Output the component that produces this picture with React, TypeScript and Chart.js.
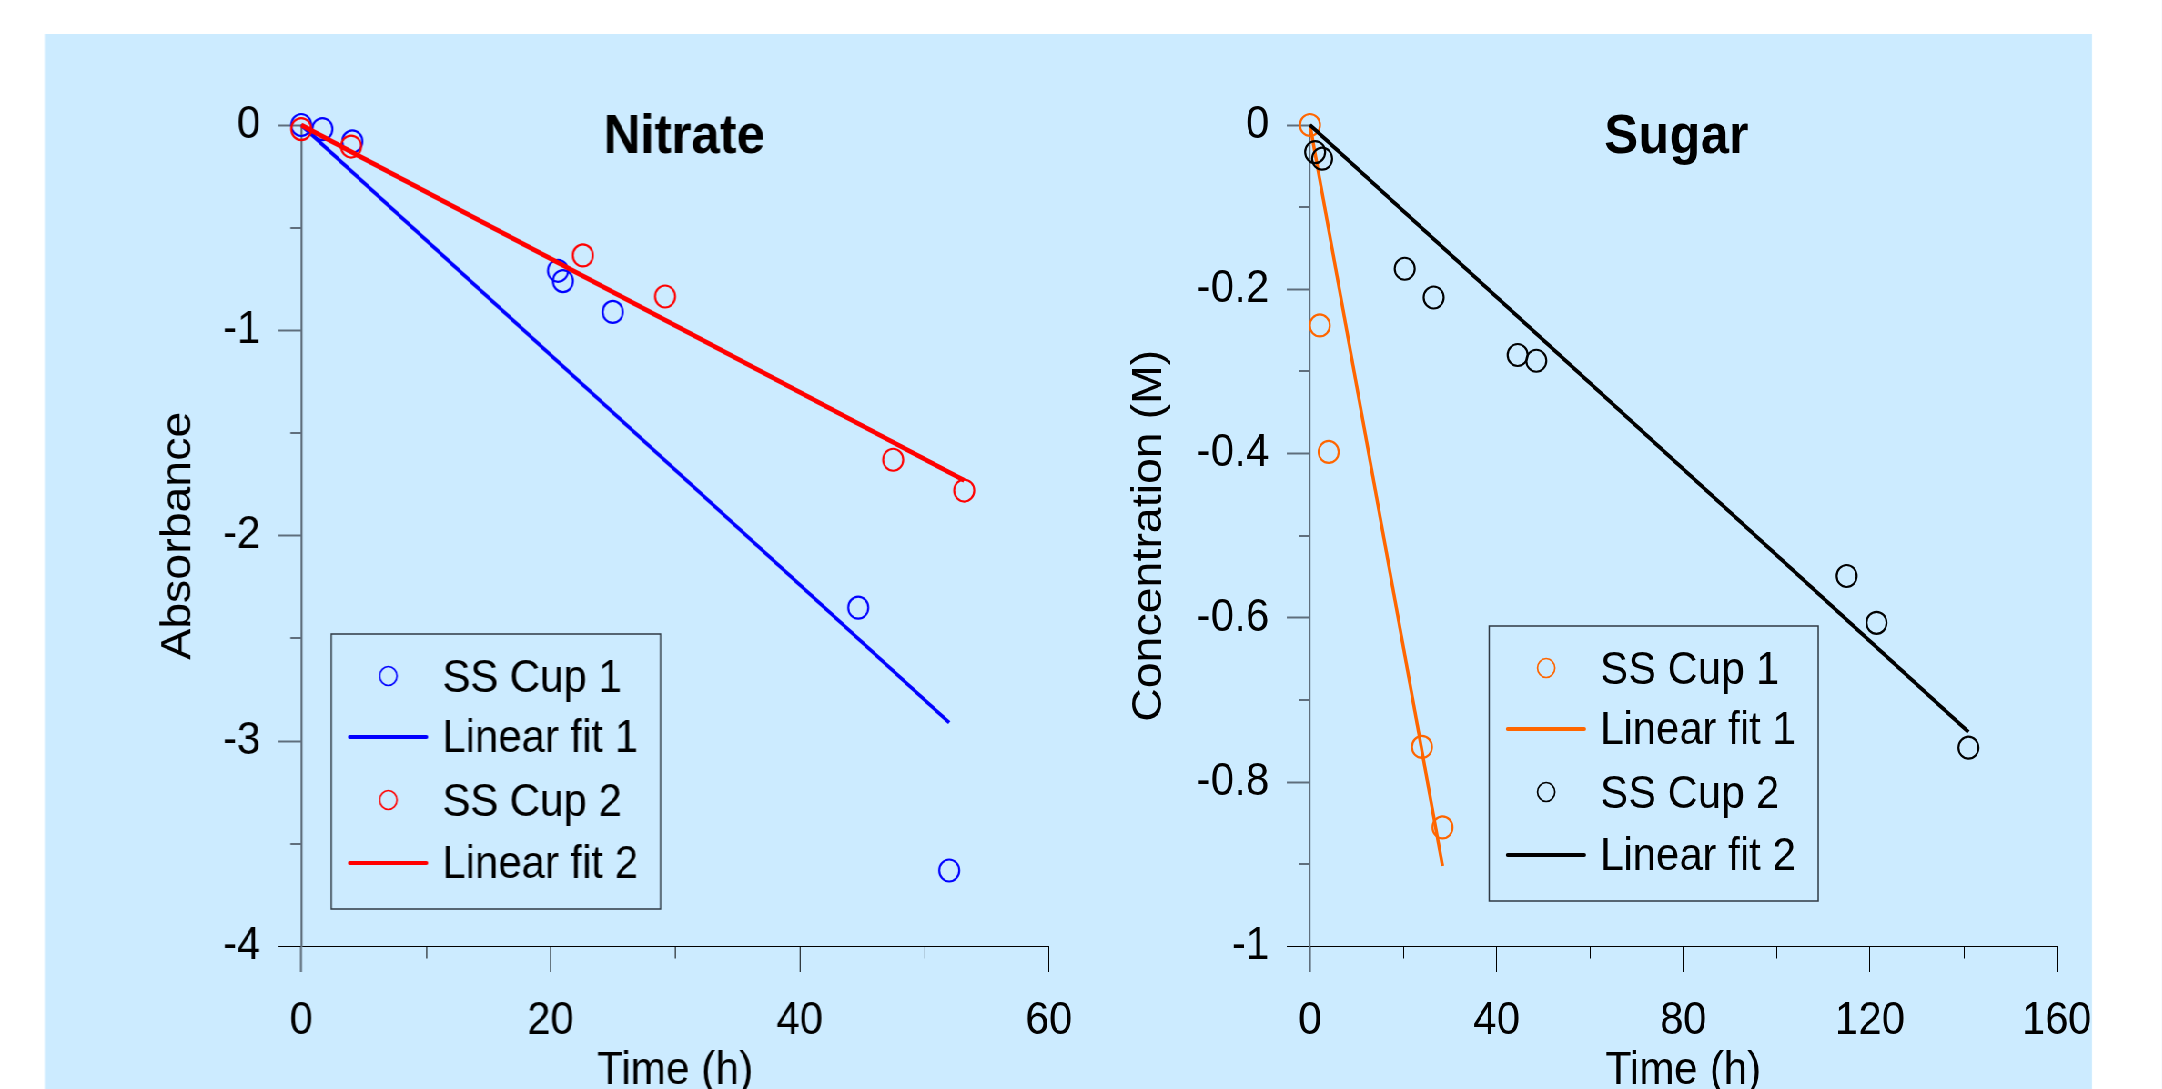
import React, { useEffect, useRef } from 'react';
import { Chart, registerables } from 'chart.js';

Chart.register(...registerables);

// ---------------- Data ----------------
const SERIES_LABELS = ['SS Cup 1', 'Linear fit 1', 'SS Cup 2', 'Linear fit 2'];

// Nitrate panel: time (h) vs absorbance
const NITRATE_CUP1_TIME = [0, 1.7, 4.1, 20.6, 21.0, 25.0, 44.7, 52.0];
const NITRATE_CUP1_ABS = [0, -0.02, -0.08, -0.71, -0.76, -0.91, -2.35, -3.63];
const NITRATE_CUP2_TIME = [0, 4.0, 22.6, 29.2, 47.5, 53.2];
const NITRATE_CUP2_ABS = [-0.02, -0.105, -0.635, -0.835, -1.63, -1.78];
const NITRATE_FIT1_TIME = [0, 52.0];
const NITRATE_FIT1_ABS = [0, -2.91];
const NITRATE_FIT2_TIME = [0, 53.2];
const NITRATE_FIT2_ABS = [0, -1.73];

// Sugar panel: time (h) vs concentration (M)
const SUGAR_CUP1_TIME = [0, 2.1, 4.0, 24.0, 28.4];
const SUGAR_CUP1_CONC = [0, -0.244, -0.398, -0.757, -0.855];
const SUGAR_CUP2_TIME = [1.1, 2.6, 20.3, 26.5, 44.5, 48.5, 115.0, 121.4, 141.1];
const SUGAR_CUP2_CONC = [-0.033, -0.041, -0.175, -0.21, -0.28, -0.287, -0.549, -0.606, -0.758];
const SUGAR_FIT1_TIME = [0, 28.4];
const SUGAR_FIT1_CONC = [0, -0.902];
const SUGAR_FIT2_TIME = [0, 141.1];
const SUGAR_FIT2_CONC = [0, -0.739];

// Ticks
const NITRATE_X_TICKS = [0, 20, 40, 60];
const NITRATE_X_MINOR = [10, 30, 50];
const NITRATE_Y_TICKS = [-4, -3, -2, -1, 0];
const NITRATE_Y_MINOR = [-3.5, -2.5, -1.5, -0.5];
const SUGAR_X_TICKS = [0, 40, 80, 120, 160];
const SUGAR_X_MINOR = [20, 60, 100, 140];
const SUGAR_Y_TICKS = [-1, -0.8, -0.6, -0.4, -0.2, 0];
const SUGAR_Y_MINOR = [-0.9, -0.7, -0.5, -0.3, -0.1];

// ---------------- Layout / style ----------------
const SQUEEZE = 0.91; // horizontal compression of the whole figure
const VIEW_W = 2162;
const VIEW_H = 1089;
const ix = (screenX: number) => screenX / SQUEEZE;
const FONT = "'Liberation Sans', Arial, Helvetica, sans-serif";
const AXIS_GRAY = '#5f6e7c';
const BG = '#CCEBFF';
const PLOT_TOP = 125;
const PLOT_BOTTOM = 946.5;
const CANVAS_H = 1100;
const TICK_LEN = 25.5;
const MINOR_LEN = 12;
const LEGEND_W = 329;
const LEGEND_H = 275;
const LEGEND_ROWS = [42, 102, 166, 228];
const AXIS_TITLE_SIZE = 46.5;

type Panel = {
  canvasLeft: number;
  canvasRight: number;
  axisLeft: number;
  axisRight: number;
  yTitleMid: number;
  title: string;
  titleCenter: number;
  legendLeft: number;
  legendTop: number;
  xTitle: string;
  yTitle: string;
  xMin: number; xMax: number; yMin: number; yMax: number;
  xTicks: number[]; xMinor: number[]; yTicks: number[]; yMinor: number[];
  colors: string[];
  widths: number[];
  series: { xs: number[]; ys: number[]; line: boolean }[];
};

const PANELS: Panel[] = [
  {
    canvasLeft: 0, canvasRight: 1100, axisLeft: 301, axisRight: 1048, yTitleMid: 178.2,
    title: 'Nitrate', titleCenter: 683.7, legendLeft: 331, legendTop: 634,
    xTitle: 'Time (h)', yTitle: 'Absorbance',
    xMin: 0, xMax: 60, yMin: -4, yMax: 0,
    xTicks: NITRATE_X_TICKS, xMinor: NITRATE_X_MINOR, yTicks: NITRATE_Y_TICKS, yMinor: NITRATE_Y_MINOR,
    colors: ['#0000FF', '#0000FF', '#FF0000', '#FF0000'],
    widths: [2.2, 3.8, 2.2, 4.8],
    series: [
      { xs: NITRATE_CUP1_TIME, ys: NITRATE_CUP1_ABS, line: false },
      { xs: NITRATE_FIT1_TIME, ys: NITRATE_FIT1_ABS, line: true },
      { xs: NITRATE_CUP2_TIME, ys: NITRATE_CUP2_ABS, line: false },
      { xs: NITRATE_FIT2_TIME, ys: NITRATE_FIT2_ABS, line: true },
    ],
  },
  {
    canvasLeft: 1100, canvasRight: 2162, axisLeft: 1309.8, axisRight: 2056.5, yTitleMid: 1149.2,
    title: 'Sugar', titleCenter: 1676.3, legendLeft: 1489, legendTop: 626,
    xTitle: 'Time (h)', yTitle: 'Concentration (M)',
    xMin: 0, xMax: 160, yMin: -1, yMax: 0,
    xTicks: SUGAR_X_TICKS, xMinor: SUGAR_X_MINOR, yTicks: SUGAR_Y_TICKS, yMinor: SUGAR_Y_MINOR,
    colors: ['#FF6600', '#FF6600', '#000000', '#000000'],
    widths: [2.2, 3.6, 2.2, 4],
    series: [
      { xs: SUGAR_CUP1_TIME, ys: SUGAR_CUP1_CONC, line: false },
      { xs: SUGAR_FIT1_TIME, ys: SUGAR_FIT1_CONC, line: true },
      { xs: SUGAR_CUP2_TIME, ys: SUGAR_CUP2_CONC, line: false },
      { xs: SUGAR_FIT2_TIME, ys: SUGAR_FIT2_CONC, line: true },
    ],
  },
];

function makeDecorPlugin(p: Panel, canvasLeftInt: number) {
  return {
    id: 'decor',
    afterDraw(chart: any) {
      const { ctx, chartArea } = chart;
      const xs = chart.scales.x;
      const ys = chart.scales.y;
      ctx.save();
      // minor ticks
      ctx.strokeStyle = '#000';
      ctx.lineWidth = 1;
      ctx.beginPath();
      p.xMinor.forEach((v) => {
        const px = Math.round(xs.getPixelForValue(v)) + 0.5;
        ctx.moveTo(px, chartArea.bottom);
        ctx.lineTo(px, chartArea.bottom + MINOR_LEN);
      });
      ctx.stroke();
      ctx.strokeStyle = AXIS_GRAY;
      ctx.lineWidth = 2;
      ctx.beginPath();
      p.yMinor.forEach((v) => {
        const py = Math.round(ys.getPixelForValue(v));
        ctx.moveTo(chartArea.left - MINOR_LEN, py);
        ctx.lineTo(chartArea.left, py);
      });
      ctx.stroke();

      // panel title
      ctx.fillStyle = '#000';
      ctx.font = `bold 56px ${FONT}`;
      ctx.textAlign = 'center';
      ctx.textBaseline = 'alphabetic';
      ctx.fillText(p.title, ix(p.titleCenter) - canvasLeftInt, 152.7);

      // legend box
      const bx = ix(p.legendLeft) - canvasLeftInt;
      const by = p.legendTop;
      const bw = ix(LEGEND_W);
      ctx.strokeStyle = '#2f3a44';
      ctx.lineWidth = 1.5;
      ctx.strokeRect(bx, by, bw, LEGEND_H);
      ctx.font = `46px ${FONT}`;
      ctx.textAlign = 'left';
      chart.data.datasets.forEach((ds: any, i: number) => {
        const cy = by + LEGEND_ROWS[i];
        if (ds.showLine) {
          ctx.strokeStyle = ds.borderColor;
          ctx.lineWidth = 4;
          ctx.lineCap = 'round';
          ctx.beginPath();
          ctx.moveTo(bx + ix(18.5), cy + 1);
          ctx.lineTo(bx + ix(95), cy + 1);
          ctx.stroke();
        } else {
          ctx.strokeStyle = ds.borderColor;
          ctx.lineWidth = 1.7;
          ctx.beginPath();
          ctx.arc(bx + ix(57), cy, 9.5, 0, Math.PI * 2);
          ctx.stroke();
        }
        ctx.fillStyle = '#000';
        ctx.fillText(ds.label, bx + ix(111), cy + 16.3);
      });
      ctx.restore();
    },
  };
}

function buildConfig(p: Panel) {
  const cl = ix(p.canvasLeft);
  const cr = ix(p.canvasRight);
  const yAxisW = ix(p.axisLeft) - cl;
  const padRight = cr - ix(p.axisRight);
  const yTitleOffset = ix(p.yTitleMid) - cl;
  const orders = [3, 2, 1, 0];
  const titleHalfLine = (AXIS_TITLE_SIZE * 1.2) / 2;

  const datasets = p.series.map((s, i) => {
    const data = s.xs.map((x, k) => ({ x, y: s.ys[k] }));
    if (s.line) {
      return {
        label: SERIES_LABELS[i],
        data,
        showLine: true,
        borderColor: p.colors[i],
        backgroundColor: p.colors[i],
        borderWidth: p.widths[i],
        pointRadius: 0,
        pointHoverRadius: 0,
        clip: false,
        order: orders[i],
      };
    }
    return {
      label: SERIES_LABELS[i],
      data,
      showLine: false,
      borderColor: p.colors[i],
      backgroundColor: 'rgba(0,0,0,0)',
      pointStyle: 'circle',
      pointRadius: 11,
      pointHoverRadius: 11,
      pointBorderWidth: p.widths[i],
      pointBorderColor: p.colors[i],
      pointBackgroundColor: 'rgba(0,0,0,0)',
      clip: false,
      order: orders[i],
    };
  });

  const config: any = {
    type: 'scatter',
    data: { datasets },
    plugins: [makeDecorPlugin(p, cl)],
    options: {
      animation: false,
      responsive: true,
      maintainAspectRatio: false,
      events: [],
      layout: { padding: { left: 0, top: PLOT_TOP, right: padRight, bottom: 0 } },
      plugins: { legend: { display: false }, tooltip: { enabled: false }, title: { display: false } },
      scales: {
        x: {
          type: 'linear',
          position: 'bottom',
          min: p.xMin,
          max: p.xMax,
          afterBuildTicks: (scale: any) => {
            scale.ticks = p.xTicks.map((value) => ({ value }));
          },
          afterFit: (scale: any) => {
            scale.height = CANVAS_H - PLOT_BOTTOM;
          },
          ticks: {
            autoSkip: false,
            maxRotation: 0,
            minRotation: 0,
            padding: 22,
            color: '#000',
            font: { size: 46, family: FONT },
            callback: (v: any) => String(v),
          },
          grid: {
            display: true,
            drawOnChartArea: false,
            drawTicks: true,
            tickLength: TICK_LEN,
            tickColor: (c: any) => (c.tick && c.tick.value === p.xMin ? AXIS_GRAY : '#000'),
            tickWidth: (c: any) => (c.tick && c.tick.value === p.xMin ? 2.2 : 1),
          },
          border: { display: true, color: '#000', width: 1 },
          title: {
            display: true,
            text: p.xTitle,
            color: '#000',
            font: { size: AXIS_TITLE_SIZE, family: FONT },
            padding: { top: 0, bottom: 0.5 },
          },
        },
        y: {
          type: 'linear',
          position: 'left',
          min: p.yMin,
          max: p.yMax,
          afterBuildTicks: (scale: any) => {
            scale.ticks = p.yTicks.map((value) => ({ value }));
          },
          afterFit: (scale: any) => {
            scale.width = yAxisW;
          },
          ticks: {
            autoSkip: false,
            padding: 19.5,
            color: '#000',
            font: { size: 46, family: FONT },
            callback: (v: any) => String(v),
          },
          grid: {
            display: true,
            drawOnChartArea: false,
            drawTicks: true,
            tickLength: TICK_LEN,
            tickColor: (c: any) => (c.tick && c.tick.value === p.yMin ? '#000' : AXIS_GRAY),
            tickWidth: (c: any) => (c.tick && c.tick.value === p.yMin ? 1 : 2),
          },
          border: { display: true, color: AXIS_GRAY, width: 2.2 },
          title: {
            display: true,
            text: p.yTitle,
            color: '#000',
            font: { size: AXIS_TITLE_SIZE, family: FONT },
            padding: { top: yTitleOffset - titleHalfLine, bottom: 0 },
          },
        },
      },
    },
  };
  return { cl, cw: cr - cl, config };
}

function PanelChart({ panel }: { panel: Panel }) {
  const ref = useRef<HTMLCanvasElement | null>(null);
  const built = buildConfig(panel);
  useEffect(() => {
    if (!ref.current) return;
    const chart = new Chart(ref.current, buildConfig(panel).config);
    return () => chart.destroy();
  }, [panel]);
  return (
    <div
      style={{
        position: 'absolute',
        left: built.cl,
        top: 0,
        width: built.cw,
        height: CANVAS_H,
      }}
    >
      <canvas ref={ref} />
    </div>
  );
}

export default function App() {
  Chart.defaults.font.family = FONT;
  return (
    <div
      style={{
        position: 'fixed',
        left: 0,
        top: 0,
        width: ix(VIEW_W),
        height: VIEW_H,
        overflow: 'hidden',
        background: '#FFFFFF',
        transform: `scaleX(${SQUEEZE})`,
        transformOrigin: '0 0',
      }}
    >
      <div
        style={{
          position: 'absolute',
          left: ix(45),
          top: 34,
          width: ix(2092) - ix(45),
          height: VIEW_H - 34,
          background: BG,
        }}
      />
      {PANELS.map((p, i) => (
        <PanelChart key={i} panel={p} />
      ))}
    </div>
  );
}
